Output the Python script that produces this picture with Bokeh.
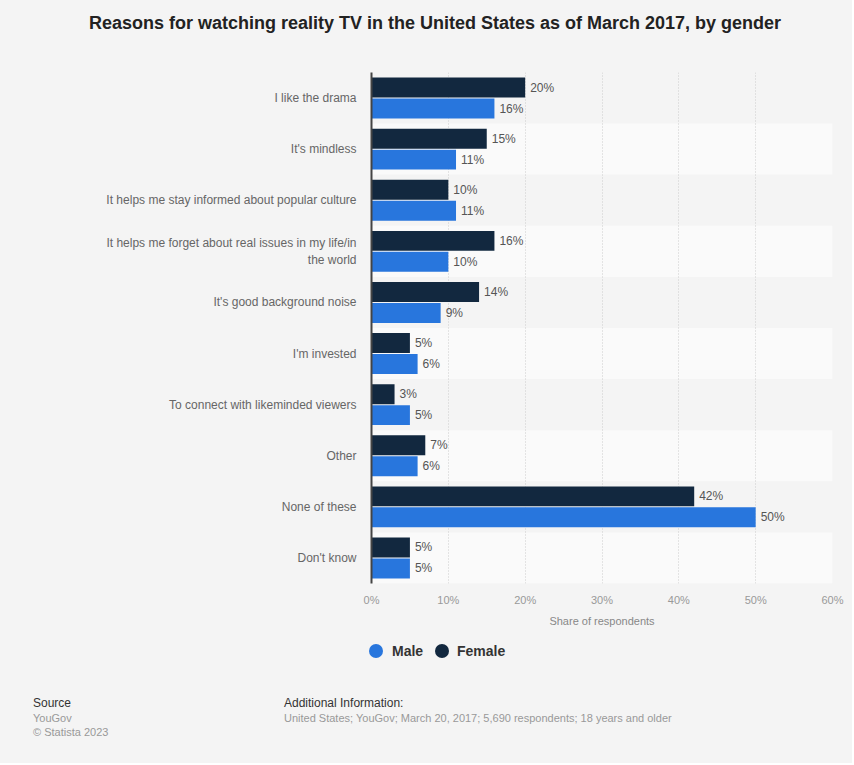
from bokeh.plotting import figure
from bokeh.models import ColumnDataSource, FactorRange, Range1d, FixedTicker, Div
from bokeh.layouts import column
from bokeh.transform import dodge
from bokeh.core.properties import value
from bokeh.embed import file_html
from bokeh.resources import INLINE

categories = [
    "I like the drama",
    "It's mindless",
    "It helps me stay informed about popular culture",
    "It helps me forget about real issues in my life/in\nthe world",
    "It's good background noise",
    "I'm invested",
    "To connect with likeminded viewers",
    "Other",
    "None of these",
    "Don't know",
]
female = [20, 15, 10, 16, 14, 5, 3, 7, 42, 5]
male = [16, 11, 11, 10, 9, 6, 5, 6, 50, 5]
x_ticks = [0, 10, 20, 30, 40, 50, 60]
x_tick_labels = ["0%", "10%", "20%", "30%", "40%", "50%", "60%"]
series_names = ["Male", "Female"]

FONT = "Liberation Sans"
BG = "#f4f4f4"
C_MALE = "#2876dd"
C_FEMALE = "#12283f"
W = 852

src = ColumnDataSource(dict(
    cat=categories,
    female=female,
    male=male,
    flab=[f"{v}%" for v in female],
    mlab=[f"{v}%" for v in male],
    band_right=[max(x_ticks)] * len(categories),
    band_color=[BG if i % 2 == 0 else "#fafafa" for i in range(len(categories))],
))

p = figure(
    width=W, height=586,
    y_range=FactorRange(factors=categories[::-1], range_padding=0),
    x_range=Range1d(0, max(x_ticks)),
    output_backend="svg", toolbar_location=None,
    min_border_left=371, min_border_right=W - 832, min_border_top=22, min_border_bottom=53,
    background_fill_color=BG, border_fill_color=BG, outline_line_color=None,
    margin=0,
)

p.hbar(y="cat", left=0, right="band_right", height=1, source=src,
       fill_color="band_color", line_color=None, level="image")

p.hbar(y=dodge("cat", 0.205, range=p.y_range), left=0, right="female", height=0.39,
       source=src, fill_color=C_FEMALE, line_color=None)
p.hbar(y=dodge("cat", -0.205, range=p.y_range), left=0, right="male", height=0.39,
       source=src, fill_color=C_MALE, line_color=None)

p.text(x="female", y=dodge("cat", 0.205, range=p.y_range), text="flab", source=src,
       x_offset=5, text_baseline="middle", text_align="left",
       text_font=value(FONT), text_font_size="12px", text_color="#555555")
p.text(x="male", y=dodge("cat", -0.205, range=p.y_range), text="mlab", source=src,
       x_offset=5, text_baseline="middle", text_align="left",
       text_font=value(FONT), text_font_size="12px", text_color="#555555")

p.xaxis.ticker = FixedTicker(ticks=x_ticks)
p.xaxis.major_label_overrides = dict(zip(x_ticks, x_tick_labels))
p.xaxis.axis_line_color = None
p.xaxis.major_tick_line_color = None
p.xaxis.minor_tick_line_color = None
p.xaxis.major_tick_out = 0
p.xaxis.major_tick_in = 0
p.xaxis.minor_tick_out = 0
p.xaxis.major_label_text_font = FONT
p.xaxis.major_label_text_font_size = "11px"
p.xaxis.major_label_text_color = "#999999"
p.xaxis.major_label_standoff = 10
p.xaxis.axis_label = "Share of respondents"
p.xaxis.axis_label_text_font = FONT
p.xaxis.axis_label_text_font_size = "11px"
p.xaxis.axis_label_text_font_style = "normal"
p.xaxis.axis_label_text_color = "#888888"
p.xaxis.axis_label_standoff = 6

p.yaxis.axis_line_color = "#444444"
p.yaxis.axis_line_width = 2
p.yaxis.major_tick_line_color = None
p.yaxis.minor_tick_line_color = None
p.yaxis.major_tick_out = 0
p.yaxis.major_tick_in = 0
p.yaxis.minor_tick_out = 0
p.yaxis.major_label_text_font = FONT
p.yaxis.major_label_text_font_size = "12px"
p.yaxis.major_label_text_color = "#666666"
p.yaxis.major_label_standoff = 15

p.ygrid.grid_line_color = None
p.xgrid.grid_line_color = "#cccccc"
p.xgrid.grid_line_dash = "1 2"
p.xgrid.grid_line_width = 1

title = Div(
    text=("<div style=\"position:absolute; left:9px; top:13px; width:%dpx; text-align:center; "
          "font-family:'Liberation Sans'; font-weight:bold; font-size:18px; line-height:20px; "
          "color:#222222;\">Reasons for watching reality TV in the United States as of March 2017, by gender</div>" % W),
    width=W, height=50, margin=0, styles={"background-color": BG},
)

def dot(left, color):
    return ("<div style=\"position:absolute; left:%dpx; top:8px; width:14px; height:14px; "
            "border-radius:7px; background-color:%s;\"></div>" % (left, color))

def legend_text(txt, left):
    return ("<div style=\"position:absolute; left:%dpx; top:7px; white-space:nowrap; "
            "font-family:'Liberation Sans'; font-weight:bold; font-size:14px; line-height:16px; "
            "color:#333333;\">%s</div>" % (left, txt))

legend_div = Div(
    text=(dot(369, C_MALE) + legend_text(series_names[0], 392)
          + dot(435, C_FEMALE) + legend_text(series_names[1], 457)),
    width=W, height=54, margin=0, styles={"background-color": BG},
)

def span(txt, left, top, size, color):
    return ("<div style=\"position:absolute; left:%dpx; top:%dpx; white-space:nowrap; "
            "font-family:'Liberation Sans'; font-size:%s; line-height:14px; color:%s;\">%s</div>"
            % (left, top, size, color, txt))

footer = Div(
    text=(span("Source", 33, 6, "12px", "#333333")
          + span("YouGov", 33, 21, "11px", "#999999")
          + span("© Statista 2023", 33, 35, "11px", "#999999")
          + span("Additional Information:", 284, 6, "12px", "#333333")
          + span("United States; YouGov; March 20, 2017; 5,690 respondents; 18 years and older",
                 284, 21, "11px", "#999999")),
    width=W, height=73, margin=0, styles={"background-color": BG},
)

layout = column(title, p, legend_div, footer, spacing=0, margin=0, styles={"background-color": BG})

open("out.html", "w").write(file_html(layout, INLINE))
